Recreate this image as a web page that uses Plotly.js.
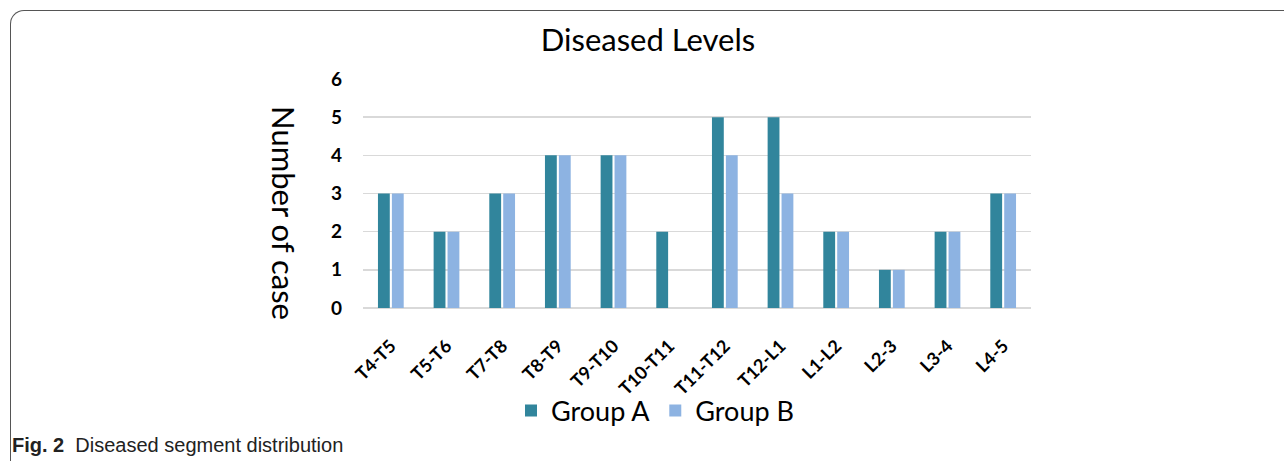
<!DOCTYPE html>
<html>
<head>
<meta charset="utf-8">
<script src="https://cdn.plot.ly/plotly-3.0.1.min.js"></script>
<style>
  html, body { margin:0; padding:0; background:#fff; }
  #wrap { position:relative; width:1284px; height:461px; overflow:hidden; }
  #chart { position:absolute; left:0; top:0; width:1284px; height:461px; }
  #frame { position:absolute; left:10px; top:10px; width:1400px; height:600px;
           border-top:1.5px solid #555; border-left:1.5px solid #555;
           border-top-left-radius:14px; pointer-events:none; }
</style>
</head>
<body>
<div id="wrap">
  <div id="chart"></div>
  <div id="frame"></div>
</div>
<script>
const categories = ["T4-T5","T5-T6","T7-T8","T8-T9","T9-T10","T10-T11","T11-T12","T12-L1","L1-L2","L2-3","L3-4","L4-5"];
const groupA = [3,2,3,4,4,2,5,5,2,1,2,3];
const groupB = [3,2,3,4,4,0,4,3,2,1,2,3];
const yTicks = [0,1,2,3,4,5,6];

const W = 1284, H = 461;
const L = 363, R = 1031, T = 79, B = 308;
const px = x => (x - L) / (R - L);
const py = y => (B - y) / (B - T);

const fontFam = "Lato, 'Open Sans', sans-serif";

const traces = [
  { type:'bar', name:'Group A', x:categories, y:groupA, marker:{color:'#31859C'} },
  { type:'bar', name:'Group B', x:categories, y:groupB, marker:{color:'#8DB3E2'} }
];

const layout = {
  width:W, height:H,
  margin:{l:L, r:W-R, t:T, b:H-B, pad:0},
  paper_bgcolor:'rgba(0,0,0,0)', plot_bgcolor:'rgba(0,0,0,0)',
  barmode:'group', bargap:0.5, bargroupgap:0.15,
  font:{family:fontFam, color:'#000'},
  title:{text:'Diseased Levels', xref:'container', x:648/W, xanchor:'center',
         yref:'container', y:1-40/H, yanchor:'middle',
         font:{family:fontFam, size:31, color:'#000'}},
  xaxis:{
    type:'category', showgrid:false, zeroline:false,
    showline:false, tickangle:-45, ticks:'', ticklabelstandoff:23,
    tickfont:{family:fontFam, size:18, weight:'bold', color:'#000'}
  },
  yaxis:{
    range:[0,6], tickvals:yTicks, showgrid:true, gridcolor:'#d9d9d9', gridwidth:1.5,
    zeroline:true, zerolinecolor:'#d9d9d9', zerolinewidth:1.5,
    showline:false, ticks:'', ticklabelstandoff:20,
    tickfont:{family:fontFam, size:19, weight:'bold', color:'#000'}
  },
  showlegend:true,
  legend:{orientation:'h', xref:'container', x:655/W, xanchor:'center',
          yref:'container', y:1-411/H, yanchor:'middle',
          font:{family:fontFam, size:27, color:'#000'}, itemwidth:30,
          traceorder:'normal'},
  annotations:[
    { text:'Number of case', textangle:90, showarrow:false,
      xref:'paper', yref:'paper', x:px(284), y:py(213), xanchor:'center', yanchor:'middle',
      font:{family:fontFam, size:31, color:'#000'} },
    { text:"<b>Fig. 2</b>  Diseased segment distribution", showarrow:false,
      xref:'paper', yref:'paper', x:px(10), y:py(445), xanchor:'left', yanchor:'middle',
      font:{family:"'Liberation Sans', sans-serif", size:20, color:'#222'} }
  ]
};

Plotly.newPlot('chart', traces, layout, {displayModeBar:false, staticPlot:true});
</script>
</body>
</html>
